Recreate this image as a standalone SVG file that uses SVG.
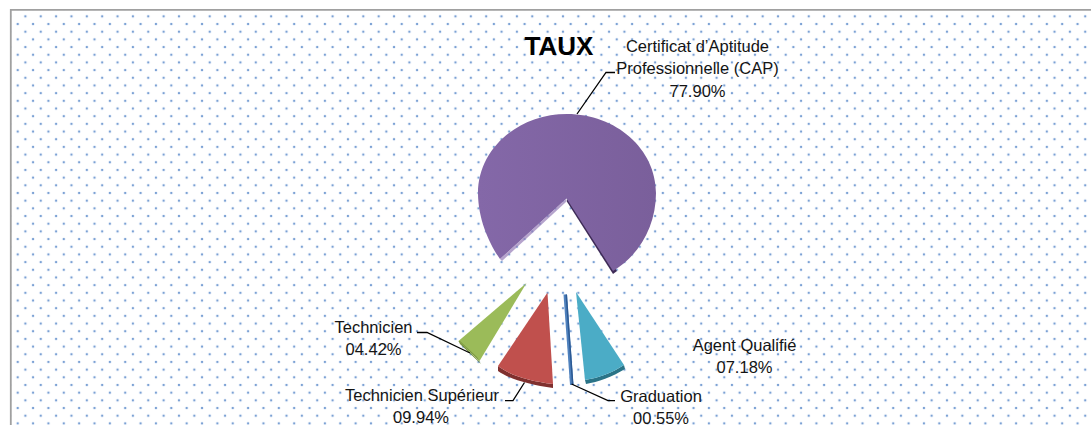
<svg xmlns="http://www.w3.org/2000/svg" width="1091" height="425" viewBox="0 0 1091 425">
<style>
.lbl{font-family:"Liberation Sans","DejaVu Sans",sans-serif;font-size:16.5px;fill:#141414;text-anchor:middle}
.ttl{font-family:"Liberation Sans","DejaVu Sans",sans-serif;font-size:26px;font-weight:bold;fill:#000;text-anchor:middle}
.lead{fill:none;stroke:#000;stroke-width:1.3}
</style>
<defs>
<pattern id="dots" patternUnits="userSpaceOnUse" x="13.86" y="20.16" width="15.36" height="15.36">
<circle cx="3.84" cy="3.84" r="1.5" fill="#d3e0f2"/>
<circle cx="3.84" cy="3.84" r="0.95" fill="#5e8cca"/>
<circle cx="11.52" cy="11.52" r="1.5" fill="#d3e0f2"/>
<circle cx="11.52" cy="11.52" r="0.95" fill="#5e8cca"/>
</pattern>
<linearGradient id="gPurple" x1="0" y1="0" x2="1" y2="0">
<stop offset="0" stop-color="#8468a8"/>
<stop offset="1" stop-color="#7a5f9b"/>
</linearGradient>
</defs>
<rect x="0" y="0" width="1091" height="425" fill="#fff"/>
<rect x="11" y="10" width="1080" height="415" fill="url(#dots)"/>
<path d="M10.8 425 V9.8 H1091" fill="none" stroke="#a0a0a0" stroke-width="1.8"/>

<g id="title"><text class="ttl" x="559" y="55">TAUX</text></g>

<g id="slice-cap">
<path d="M566.5 201 L613 274 L617 271 L569 197 Z" fill="#3e2b57"/>
<path d="M566.5 198.5 L500 259 C490 245 478 220 478 193 C478 149 518 114 567 114 C616 114 656 149 656 193 C656 225 640 255 613 271 Z" fill="url(#gPurple)"/>
<path d="M566.5 198.5 L500 259 L502 261 L566 202 Z" fill="#957cb6" opacity="0.7"/>
</g>

<g id="slice-technicien">
<path d="M458.5 341 L479 361 L481 364 L460 344 Z" fill="#6b8533"/>
<path d="M526.5 283 L458.5 341 L479.5 361 Z" fill="#9bbb59"/>
<path d="M458.5 341 L479.5 361 L477 357 L460 341 Z" fill="#7d9a3f"/>
</g>

<g id="slice-techsup">
<path d="M498 366 C511 376 530 381 553 384 L553 388 C530 385 509 379 498 371 Z" fill="#7f302e"/>
<path d="M547.5 292.5 L498 366 C511 376 530 381 553 384 Z" fill="#c0504d"/>
</g>

<g id="slice-graduation">
<path d="M563.5 294.5 L567 294.5 L573.5 385 L570 385 Z" fill="#4f81bd"/>
<path d="M567 294.5 L573.5 385 L572 385 L565.5 294.5 Z" fill="#2c5a94"/>
</g>

<g id="slice-agent">
<path d="M585 380 C598 378 612 373 624 365 L625 369 C612 377 598 382 586 384 Z" fill="#2a7487"/>
<path d="M576 292 L624 365 C612 373 598 378 585 380 Z" fill="#4bacc6"/>
</g>

<g id="connectors">
<polyline class="lead" points="577,114 606,72.5 615,72.5"/>
<polyline class="lead" points="417,332.5 427,332.5 470,353"/>
<polyline class="lead" points="505,400.7 513,400.7 524.5,382.5"/>
<polyline class="lead" points="571.5,384 608,400.7 615,400.7"/>
</g>

<g id="label-cap">
<text class="lbl" x="697.5" y="51.5">Certificat d’Aptitude</text>
<text class="lbl" x="697.5" y="74">Professionnelle (CAP)</text>
<text class="lbl" x="697.5" y="96.5">77.90%</text>
</g>
<g id="label-technicien">
<text class="lbl" x="373.5" y="332.5">Technicien</text>
<text class="lbl" x="373.5" y="354.5">04.42%</text>
</g>
<g id="label-techsup">
<text class="lbl" x="422" y="400.7">Technicien Supérieur</text>
<text class="lbl" x="421" y="423">09.94%</text>
</g>
<g id="label-graduation">
<text class="lbl" x="661" y="401.5">Graduation</text>
<text class="lbl" x="661" y="423.5">00.55%</text>
</g>
<g id="label-agent">
<text class="lbl" x="744.5" y="351">Agent Qualifié</text>
<text class="lbl" x="744.5" y="372.7">07.18%</text>
</g>
</svg>
